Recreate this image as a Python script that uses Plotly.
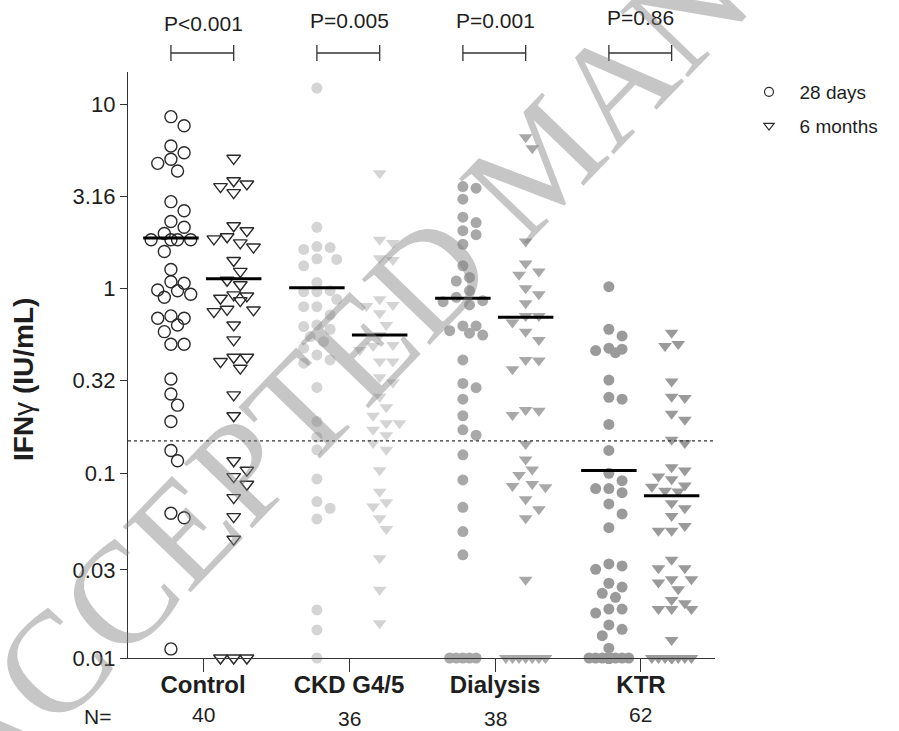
import numpy as np
import plotly.graph_objects as go

# ---------------- data ----------------
categories = ["Control", "CKD G4/5", "Dialysis", "KTR"]
n_labels = ["40", "36", "38", "62"]
p_labels = ["P<0.001", "P=0.005", "P=0.001", "P=0.86"]
series_names = ["28 days", "6 months"]

control_28d = [8.54, 7.63, 5.92, 5.45, 5.02, 4.77, 4.34, 2.96, 2.64, 2.31, 2.15, 1.99,
               1.84, 1.84, 1.84, 1.84, 1.59, 1.27, 1.09, 1.07, 0.975, 0.984, 0.933, 0.898,
               0.691, 0.712, 0.691, 0.636, 0.585, 0.500, 0.500, 0.324, 0.269, 0.234, 0.191,
               0.133, 0.117, 0.0608, 0.0575, 0.0112]
control_6m = [5.08, 3.84, 3.57, 3.69, 3.31, 2.19, 2.06, 1.86, 1.91, 1.77, 1.68, 1.42,
              1.24, 1.11, 1.05, 0.887, 0.913, 0.925, 0.861, 0.773, 0.767, 0.751, 0.636,
              0.528, 0.425, 0.425, 0.403, 0.371, 0.266, 0.205, 0.117, 0.104, 0.096,
              0.0873, 0.0739, 0.0583, 0.044, 0.01, 0.01, 0.01]
ckd_28d = [12.2, 2.15, 1.67, 1.63, 1.69, 1.45, 1.44, 1.33, 1.08, 0.963, 0.963, 0.975,
           0.876, 0.799, 0.799, 0.721, 0.623, 0.603, 0.636, 0.55, 0.516, 0.476, 0.411,
           0.395, 0.438, 0.292, 0.191, 0.157, 0.134, 0.0933, 0.0703, 0.0647, 0.0566,
           0.0182, 0.0142, 0.01]
ckd_6m = [4.22, 1.84, 1.77, 1.43, 1.46, 0.816, 0.806, 0.876, 0.736, 0.636, 0.496, 0.466,
          0.490, 0.561, 0.403, 0.403, 0.331, 0.310, 0.260, 0.228, 0.205, 0.187, 0.187,
          0.172, 0.161, 0.146, 0.134, 0.104, 0.0796, 0.0661, 0.0698, 0.0571, 0.050,
          0.0347, 0.0234, 0.0154]
dialysis_28d = [3.50, 3.57, 3.05, 2.44, 2.28, 1.96, 2.06, 1.74, 1.33, 1.15, 1.10, 0.975,
                0.898, 0.861, 0.816, 0.850, 0.628, 0.628, 0.574, 0.561, 0.592, 0.411,
                0.307, 0.291, 0.252, 0.205, 0.172, 0.161, 0.126, 0.0921, 0.0655, 0.0484,
                0.0362] + [0.01] * 5
dialysis_6m = [6.60, 5.76, 1.80, 1.37, 1.24, 1.19, 1.005, 0.933, 0.834, 0.712, 0.712,
               0.655, 0.585, 0.528, 0.411, 0.408, 0.366, 0.218, 0.207, 0.220, 0.144,
               0.119, 0.105, 0.098, 0.0841, 0.0876, 0.0855, 0.0724, 0.0639, 0.0571,
               0.0265] + [0.01] * 7
ktr_28d = [1.025, 0.603, 0.555, 0.470, 0.450, 0.476, 0.462, 0.320, 0.252, 0.258, 0.184,
           0.133, 0.100, 0.0913, 0.0827, 0.0827, 0.0786, 0.0683, 0.0603, 0.0508, 0.0315,
           0.0302, 0.0323, 0.0254, 0.0242, 0.0224, 0.0213, 0.0184, 0.0184, 0.0175,
           0.0143, 0.0151, 0.0132, 0.0113] + [0.01] * 28
ktr_6m = [0.578, 0.502, 0.490, 0.314, 0.260, 0.256, 0.210, 0.195, 0.152, 0.146, 0.108,
          0.1035, 0.096, 0.0929, 0.0858, 0.0847, 0.0806, 0.0797, 0.0689, 0.0647, 0.0588,
          0.0519, 0.0489, 0.0489, 0.0340, 0.0306, 0.0306, 0.0267, 0.0267, 0.0256,
          0.0236, 0.0206, 0.0198, 0.0184, 0.0184, 0.0184, 0.0125] + [0.01] * 25

values_28d = [control_28d, ckd_28d, dialysis_28d, ktr_28d]
values_6m = [control_6m, ckd_6m, dialysis_6m, ktr_6m]
medians_28d = [1.88, 1.01, 0.887, 0.1035]
medians_6m = [1.13, 0.561, 0.70, 0.0755]
threshold = 0.15

y_tickvals = [0.01, 0.03, 0.1, 0.32, 1, 3.16, 10]
y_ticktext = ["0.01", "0.03", "0.1", "0.32", "1", "3.16", "10"]

# ---------------- layout geometry ----------------
W, H = 899, 731
ML, MR, MT, MB = 128, 184, 72, 73
PW, PH = W - ML - MR, H - MT - MB
XR = [-0.514, 3.507]
YR = [-2.0, 1.1733]
PX_PER_X = PW / (XR[1] - XR[0])
OFF_28D, OFF_6M = -0.22, 0.21
MED_HALF = 0.19

FONT = "Liberation Sans, Arial, sans-serif"
DARK = "#2a2a2a"
TXT = "#1e1e1e"
fill_colors = [None, "#d4d4d4", "#a8a8a8", "#9a9a9a"]


def ypix(v):
    return (YR[1] - np.log10(v)) / (YR[1] - YR[0]) * PH


def paper_y(px):
    """pixel row (from top of image) -> paper y"""
    return (MT + PH - px) / PH


def paper_x(px):
    return (px - ML) / PW


def swarm(vals, diam=12.0, step=6.6, maxk=3):
    """Simple beeswarm: horizontal offsets (in x data units) avoiding overlap."""
    ys = np.array([ypix(v) for v in vals])
    order = np.argsort(ys, kind="stable")
    cands = [0]
    for k in range(1, maxk + 1):
        cands += [k, -k]
    placed = []
    offs = np.zeros(len(vals))
    for i in order:
        chosen, best_d, best_x = None, -1.0, 0.0
        for c in cands:
            x = c * step
            d = min((np.hypot(x - px, ys[i] - py) for px, py in placed), default=1e9)
            if d >= diam:
                chosen = x
                break
            if d > best_d + 1e-9:
                best_d, best_x = d, x
        if chosen is None:
            chosen = best_x
        placed.append((chosen, ys[i]))
        offs[i] = chosen / PX_PER_X
    return offs


fig = go.Figure()

for ci, cat in enumerate(categories):
    for vals, off, sym in ((values_28d[ci], OFF_28D, "circle"),
                           (values_6m[ci], OFF_6M, "triangle-down")):
        xs = ci + off + swarm(vals)
        if ci == 0:
            marker = dict(symbol=sym + "-open", size=12,
                          color=DARK, line=dict(width=1.4, color=DARK))
        else:
            marker = dict(symbol=sym, size=11 if sym == "circle" else 12,
                          color=fill_colors[ci], line=dict(width=0))
        fig.add_trace(go.Scatter(x=xs, y=vals, mode="markers", marker=marker,
                                 showlegend=False, cliponaxis=False, hoverinfo="y"))

# medians
for meds, off in ((medians_28d, OFF_28D), (medians_6m, OFF_6M)):
    mx, my = [], []
    for ci, m in enumerate(meds):
        mx += [ci + off - MED_HALF, ci + off + MED_HALF, None]
        my += [m, m, None]
    fig.add_trace(go.Scatter(x=mx, y=my, mode="lines", line=dict(color="black", width=3),
                             showlegend=False, hoverinfo="skip"))

# threshold dotted line
fig.add_trace(go.Scatter(x=[XR[0], XR[1]], y=[threshold, threshold], mode="lines",
                         line=dict(color="#333333", width=1.3, dash="dot"),
                         showlegend=False, hoverinfo="skip", cliponaxis=False))

# legend entries
for i, (name, sym) in enumerate(zip(series_names, ["circle-open", "triangle-down-open"])):
    fig.add_trace(go.Scatter(x=[None], y=[None], mode="markers", name="\u00a0\u00a0" + name,
                             marker=dict(symbol=sym, size=9, color=DARK, line=dict(width=1.2)),
                             legendgroup=name))

shapes = []
annotations = []
br_y = paper_y(53)
p_px = [24, 21, 21, 18]
n_px = [714, 718, 719, 714]
for ci in range(len(categories)):
    x0, x1 = ci + OFF_28D, ci + OFF_6M
    lc = dict(color="#333333", width=1.3)
    shapes.append(dict(type="line", xref="x", yref="paper", x0=x0, x1=x1, y0=br_y, y1=br_y, line=lc))
    for xx in (x0, x1):
        shapes.append(dict(type="line", xref="x", yref="paper", x0=xx, x1=xx,
                           y0=br_y - 8 / PH, y1=br_y + 8 / PH, line=lc))
    annotations.append(dict(x=ci, y=paper_y(p_px[ci]), xref="x", yref="paper", text=p_labels[ci],
                            xanchor="center", yanchor="middle", showarrow=False,
                            font=dict(family=FONT, size=21, color=TXT)))
    annotations.append(dict(x=ci, y=paper_y(n_px[ci]), xref="x", yref="paper", text=n_labels[ci],
                            xanchor="center", yanchor="middle", showarrow=False,
                            font=dict(family=FONT, size=21, color=TXT)))

annotations.append(dict(x=paper_x(97), y=paper_y(716), xref="paper", yref="paper", text="N=",
                        xanchor="center", yanchor="middle", showarrow=False,
                        font=dict(family=FONT, size=21, color=TXT)))
annotations.append(dict(x=paper_x(23), y=paper_y(380), xref="paper", yref="paper",
                        text="<b>IFN</b>γ<b> (IU/mL)</b>", textangle=-90, showarrow=False,
                        xanchor="center", yanchor="middle",
                        font=dict(family=FONT, size=28, color=TXT)))
# watermark
annotations.append(dict(x=paper_x(540), y=paper_y(160), xref="paper", yref="paper",
                        text="ACCEPTED MANUSCRIPT", textangle=-46, showarrow=False,
                        xanchor="center", yanchor="middle",
                        font=dict(family="Liberation Serif, Times New Roman, serif", size=144,
                                  color="rgba(128,128,128,0.45)")))

fig.update_layout(
    width=W, height=H,
    margin=dict(l=ML, r=MR, t=MT, b=MB, autoexpand=False),
    paper_bgcolor="white", plot_bgcolor="white",
    font=dict(family=FONT, size=20, color=TXT),
    showlegend=True,
    legend=dict(x=paper_x(749), y=paper_y(73), xanchor="left", yanchor="top",
                font=dict(family=FONT, size=19, color=TXT), bgcolor="rgba(0,0,0,0)",
                tracegroupgap=6, itemwidth=30),
    shapes=shapes, annotations=annotations,
    xaxis=dict(range=XR, showgrid=False, zeroline=False, showline=True, linecolor="#333",
               linewidth=1.3, ticks="outside", ticklen=13, tickcolor="#333", tickwidth=1.3,
               tickvals=list(range(len(categories))),
               ticktext=["<b>%s</b>" % c for c in categories],
               ticklabelstandoff=-8,
               tickfont=dict(family=FONT, size=24, color=TXT)),
    yaxis=dict(type="log", range=YR, showgrid=False, zeroline=False, showline=True,
               linecolor="#333", linewidth=1.3, ticks="outside", ticklen=7, tickcolor="#333",
               tickwidth=1.3, tickvals=y_tickvals, ticktext=y_ticktext,
               tickfont=dict(family=FONT, size=22, color=TXT)),
)

fig.write_html("out.html")
